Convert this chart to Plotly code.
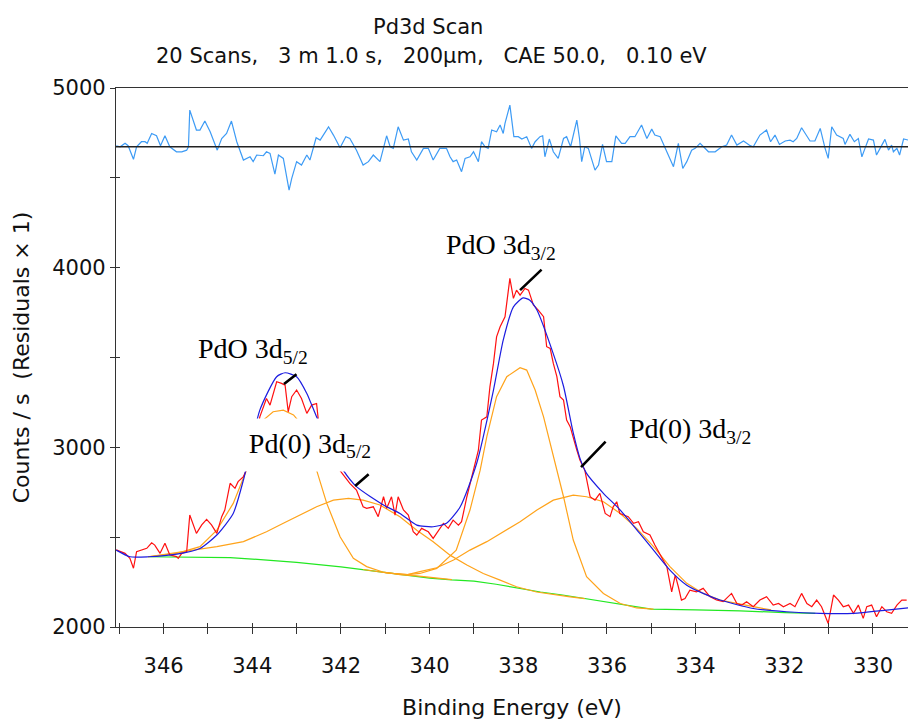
import plotly.graph_objects as go

# ---------------- data ----------------
raw_be = [347.07, 346.87, 346.76, 346.68, 346.61, 346.46, 346.38, 346.27, 346.20, 346.08,
          345.97, 345.86, 345.71, 345.67, 345.59, 345.48, 345.41, 345.26, 345.14, 345.03,
          344.92, 344.80, 344.69, 344.62, 344.50, 344.39, 344.32, 344.20, 344.13, 344.00,
          343.90, 343.83, 343.75, 343.68, 343.60, 343.53, 343.45, 343.34, 343.26, 343.19,
          343.11, 343.00, 342.89, 342.77, 342.66, 342.55, 342.51, 342.40, 342.20, 342.05,
          341.91, 341.80, 341.65, 341.50, 341.42, 341.27, 341.16, 341.04, 340.97, 340.86,
          340.78, 340.71, 340.59, 340.48, 340.37, 340.29, 340.18, 340.03, 339.92, 339.80,
          339.69, 339.58, 339.47, 339.35, 339.28, 339.16, 339.01, 338.90, 338.83, 338.71,
          338.64, 338.56, 338.49, 338.41, 338.30, 338.19, 338.11, 338.04, 337.96, 337.85,
          337.77, 337.66, 337.55, 337.43, 337.36, 337.28, 337.21, 337.13, 337.06, 336.98,
          336.91, 336.83, 336.68, 336.61, 336.50, 336.38, 336.27, 336.16, 336.04, 335.93,
          335.86, 335.78, 335.71, 335.63, 335.52, 335.40, 335.29, 335.18, 335.03, 334.92,
          334.80, 334.65, 334.54, 334.46, 334.39, 334.32, 334.24, 334.13, 333.98, 333.83,
          333.68, 333.53, 333.38, 333.19, 333.07, 332.96, 332.85, 332.70, 332.55, 332.40,
          332.25, 332.13, 332.02, 331.87, 331.76, 331.61, 331.49, 331.38, 331.27, 331.16,
          331.01, 330.89, 330.78, 330.67, 330.55, 330.44, 330.33, 330.22, 330.14, 330.03,
          329.92, 329.80, 329.69, 329.58, 329.46, 329.35, 329.24]
raw_counts = [2429, 2410, 2382, 2327, 2419, 2429, 2438, 2469, 2456, 2410,
              2466, 2401, 2392, 2382, 2410, 2419, 2623, 2521, 2568, 2599,
              2568, 2521, 2614, 2651, 2800, 2772, 2809, 2837, 2874, 2980,
              3080, 3170, 3226, 3272, 3235, 3291, 3365, 3356, 3346, 3198,
              3282, 3319, 3272, 3189, 3235, 3244, 3152, 3050, 2940, 2880,
              2836, 2799, 2762, 2669, 2660, 2669, 2614, 2725, 2660, 2725,
              2623, 2725, 2651, 2623, 2530, 2512, 2549, 2530, 2493, 2539,
              2577, 2549, 2595, 2567, 2586, 2725, 2873, 2985, 3152, 3170,
              3337, 3467, 3615, 3671, 3727, 3940, 3829, 3875, 3847, 3884,
              3875, 3792, 3764, 3727, 3560, 3550, 3467, 3393, 3282, 3263,
              3152, 3115, 2985, 2929, 2873, 2725, 2706, 2744, 2632, 2614,
              2669, 2697, 2632, 2623, 2614, 2577, 2586, 2530, 2512, 2456,
              2400, 2336, 2196, 2289, 2224, 2150, 2159, 2205, 2196, 2215,
              2169, 2150, 2141, 2187, 2131, 2122, 2141, 2113, 2150, 2169,
              2122, 2131, 2113, 2131, 2113, 2187, 2131, 2113, 2150, 2113,
              2020, 2178, 2150, 2113, 2122, 2076, 2122, 2048, 2113, 2122,
              2057, 2113, 2085, 2076, 2122, 2150, 2150]

env_be = [347.07, 346.76, 346.35, 345.70, 345.18, 344.80, 344.43, 344.20, 343.83, 343.45,
          343.26, 343.00, 342.77, 342.55, 342.30, 342.10, 341.95, 341.65, 341.04, 340.67,
          340.29, 339.92, 339.62, 339.31, 338.94, 338.56, 338.34, 338.11, 337.89, 337.74,
          337.58, 337.21, 336.98, 336.76, 336.61, 336.46, 336.08, 335.70, 335.26, 334.95,
          334.58, 334.20, 333.83, 333.45, 332.70, 331.95, 331.20, 330.44, 329.69, 329.20]
env_counts = [2428, 2391, 2391, 2406, 2437, 2512, 2632, 2818, 3207, 3393,
              3415, 3393, 3300, 3170, 3040, 2940, 2873, 2781, 2679, 2632,
              2567, 2558, 2577, 2669, 2910, 3319, 3597, 3782, 3832, 3819,
              3764, 3520, 3340, 3080, 2940, 2855, 2744, 2651, 2521, 2428,
              2317, 2233, 2187, 2150, 2103, 2085, 2076, 2076, 2094, 2107]

bg_be = [346.35, 345.5, 344.5, 344.0, 343.0, 342.0, 341.0, 340.5, 340.0, 339.5,
         339.0, 338.5, 338.0, 337.5, 337.0, 336.5, 336.0, 335.5, 335.0, 334.0,
         333.0, 332.0, 331.3]
bg_counts = [2391, 2390, 2386, 2378, 2360, 2335, 2302, 2285, 2272, 2262,
             2255, 2238, 2215, 2195, 2178, 2158, 2138, 2120, 2100, 2095,
             2090, 2080, 2076]

pdo52_be = [346.35, 345.70, 345.18, 344.80, 344.43, 344.13, 343.95, 343.75, 343.53, 343.30,
            343.07, 342.85, 342.70, 342.55, 342.32, 342.02, 341.72, 341.42, 341.04, 340.67,
            340.29, 339.90, 339.50]
pdo52_counts = [2391, 2410, 2447, 2539, 2688, 2873, 3020, 3152, 3198, 3207,
                3180, 3115, 3010, 2873, 2688, 2502, 2382, 2336, 2305, 2292,
                2285, 2274, 2264]

pd052_be = [346.35, 345.56, 344.80, 344.20, 343.68, 343.30, 342.92, 342.55, 342.17, 341.83,
            341.50, 341.12, 340.67, 340.29, 339.92, 339.54, 339.16, 338.79, 338.41, 338.04,
            337.59, 337.21, 336.83, 336.50]
pd052_counts = [2391, 2419, 2447, 2475, 2530, 2577, 2623, 2669, 2706, 2716,
                2706, 2679, 2614, 2539, 2475, 2400, 2345, 2298, 2261, 2224,
                2195, 2180, 2168, 2158]

pdo32_be = [341.50, 341.00, 340.50, 340.22, 339.84, 339.40, 339.09, 338.86, 338.71, 338.49,
            338.26, 337.96, 337.81, 337.62, 337.43, 337.21, 336.98, 336.76, 336.46, 336.08,
            335.70, 335.33, 334.95]
pdo32_counts = [2320, 2302, 2292, 2298, 2326, 2428, 2651, 2873, 3059, 3282,
                3393, 3443, 3430, 3319, 3170, 2948, 2725, 2484, 2280, 2187,
                2131, 2106, 2100]

pd032_be = [341.00, 340.50, 340.22, 339.84, 339.46, 339.09, 338.71, 338.34, 337.96, 337.58,
            337.21, 336.76, 336.46, 336.08, 335.70, 335.33, 334.95, 334.58, 334.20, 333.83,
            333.45, 332.70, 332.30]
pd032_counts = [2302, 2292, 2308, 2330, 2373, 2428, 2475, 2530, 2586, 2651,
                2706, 2734, 2725, 2697, 2632, 2549, 2447, 2336, 2243, 2187,
                2150, 2113, 2095]

resid_offset = 4673
resid_be = [347.07, 346.98, 346.87, 346.80, 346.68, 346.61, 346.50, 346.42, 346.37, 346.27,
            346.16, 346.07, 345.97, 345.86, 345.71, 345.59, 345.48, 345.44, 345.41, 345.26,
            345.18, 345.07, 344.95, 344.79, 344.69, 344.58, 344.47, 344.35, 344.20, 344.13,
            344.05, 343.98, 343.90, 343.75, 343.68, 343.60, 343.49, 343.41, 343.30, 343.17,
            343.11, 343.00, 342.89, 342.77, 342.70, 342.56, 342.47, 342.28, 342.17, 342.02,
            341.89, 341.80, 341.65, 341.50, 341.38, 341.27, 341.12, 340.97, 340.89, 340.82,
            340.71, 340.59, 340.48, 340.41, 340.29, 340.14, 340.03, 339.92, 339.77, 339.62,
            339.54, 339.47, 339.39, 339.28, 339.20, 339.09, 339.01, 338.90, 338.83, 338.75,
            338.68, 338.60, 338.49, 338.41, 338.34, 338.30, 338.19, 338.10, 338.00, 337.92,
            337.81, 337.70, 337.62, 337.51, 337.45, 337.40, 337.30, 337.21, 337.10, 336.98,
            336.91, 336.82, 336.68, 336.62, 336.57, 336.50, 336.42, 336.27, 336.19, 336.10,
            336.01, 335.89, 335.80, 335.67, 335.59, 335.48, 335.37, 335.22, 335.10, 334.99,
            334.92, 334.80, 334.65, 334.50, 334.39, 334.29, 334.20, 334.09, 334.01, 333.90,
            333.71, 333.56, 333.41, 333.30, 333.19, 333.07, 332.92, 332.77, 332.70, 332.55,
            332.40, 332.31, 332.21, 332.11, 331.98, 331.87, 331.80, 331.72, 331.61, 331.42,
            331.31, 331.19, 331.08, 331.01, 330.93, 330.82, 330.67, 330.63, 330.52, 330.42,
            330.33, 330.25, 330.18, 330.10, 329.99, 329.92, 329.84, 329.73, 329.65, 329.58,
            329.54, 329.46, 329.40, 329.31, 329.20]
resid_vals = [5, 0, 19, 6, -70, 0, 28, 28, 19, 74,
              61, 6, 61, 0, -28, -28, -19, 0, 204, 93,
              93, 143, 83, -19, 46, 74, 143, 28, -74, -65,
              -56, -83, -46, -50, -28, -37, -152, -46, -65, -241,
              -176, -83, -102, -46, -74, 50, 37, 111, 65, -6,
              56, 46, -19, -102, -83, -46, -83, 61, 0, -9,
              111, 37, 43, -28, -74, -9, -9, -74, -9, -9,
              -56, -83, -74, -139, -65, -56, -28, -83, 28, 0,
              -9, 93, 83, 121, 74, 130, 232, 56, 56, 43,
              56, -9, 28, 56, 61, -56, 43, -28, -65, 46,
              56, 0, 148, 46, -83, 0, -9, -130, -102, 13,
              -83, -83, 61, 19, 19, 56, 56, 121, 46, 98,
              65, 56, -28, -111, 19, -121, -83, -19, -9, 19,
              -28, -28, 0, 9, 65, 9, 32, 6, 0, 65,
              93, 28, 65, 13, 32, 37, 28, 46, 106, 32,
              32, 102, -9, -65, 111, 65, 46, 13, 69, 28,
              46, -56, -9, 43, 37, -46, -9, 41, -19, 9,
              -28, -9, -46, 43, 37]

x_tick_vals = [346, 344, 342, 340, 338, 336, 334, 332, 330]
y_tick_vals = [2000, 3000, 4000, 5000]

peak_labels = ["PdO 3d<sub>5/2</sub>", "Pd(0) 3d<sub>5/2</sub>",
               "PdO 3d<sub>3/2</sub>", "Pd(0) 3d<sub>3/2</sub>"]
label_be = [343.98, 342.70, 338.39, 334.13]
label_counts = [3541, 3013, 4120, 3091]
arrow_be = [343.285, 341.68, 337.96, 336.585]
arrow_counts = [3352, 2785, 3875, 2890]

# ---------------- figure ----------------
fig = go.Figure()
LW = 1.2
fig.add_trace(go.Scatter(x=bg_be, y=bg_counts, mode="lines",
                         line=dict(color="#22e822", width=LW)))
for be, cts in [(pdo52_be, pdo52_counts), (pd052_be, pd052_counts),
                (pdo32_be, pdo32_counts), (pd032_be, pd032_counts)]:
    fig.add_trace(go.Scatter(x=be, y=cts, mode="lines",
                             line=dict(color="#ffa31a", width=LW)))
fig.add_trace(go.Scatter(x=raw_be, y=raw_counts, mode="lines",
                         line=dict(color="#ff1010", width=LW)))
fig.add_trace(go.Scatter(x=env_be, y=env_counts, mode="lines",
                         line=dict(color="#1c1ce0", width=LW, shape="spline", smoothing=0.6)))
fig.add_trace(go.Scatter(x=resid_be, y=[resid_offset + r for r in resid_vals], mode="lines",
                         line=dict(color="#3d9bf5", width=LW)))

fig.add_hline(y=resid_offset, line=dict(color="#222222", width=1.3))

XR = [347.074, 329.21]
YR = [2000, 5000]
tickfont = dict(family="DejaVu Sans", size=21, color="#111111")
titlefont_ax = dict(family="DejaVu Sans", size=22, color="#111111")
fig.update_layout(
    width=908, height=721,
    margin=dict(l=116, r=0, t=88, b=94),
    paper_bgcolor="white", plot_bgcolor="white",
    showlegend=False,
    xaxis=dict(range=XR, showgrid=False, zeroline=False,
               showline=True, linecolor="#333333", linewidth=1.3, mirror=True,
               ticks="outside", ticklen=6, tickwidth=1.2, tickcolor="#333333",
               tickvals=x_tick_vals, ticktext=[str(v) for v in x_tick_vals],
               minor=dict(ticks="outside", ticklen=6, tickwidth=1.2, tickcolor="#333333", dtick=1, tick0=0),
               tickfont=tickfont, ticklabelstandoff=14,
               title=dict(text="Binding Energy (eV)", font=titlefont_ax, standoff=22)),
    yaxis=dict(range=YR, showgrid=False, zeroline=False,
               showline=True, linecolor="#333333", linewidth=1.3,
               ticks="outside", ticklen=5, tickwidth=1.2, tickcolor="#333333",
               tickvals=y_tick_vals, ticktext=[str(v) for v in y_tick_vals],
               minor=dict(ticks="outside", ticklen=5, tickwidth=1.2, tickcolor="#333333", dtick=500, tick0=0),
               tickfont=tickfont,
               title=dict(text="Counts / s&nbsp;&nbsp;(Residuals × 1)", font=titlefont_ax, standoff=16)),
    xaxis2=dict(range=XR, overlaying="x", side="bottom", showgrid=False, zeroline=False,
                showticklabels=False, ticks="inside", ticklen=4, tickwidth=1.2, tickcolor="#333333",
                dtick=1, tick0=0, anchor="y"),
    yaxis2=dict(range=YR, overlaying="y", side="left", showgrid=False, zeroline=False,
                showticklabels=False, ticks="inside", ticklen=4, tickwidth=1.2, tickcolor="#333333",
                dtick=500, tick0=0, anchor="x"),
)
# invisible trace to activate the overlay axes (inside tick halves)
fig.add_trace(go.Scatter(x=[XR[0]], y=[YR[0]], xaxis="x2", yaxis="y2", mode="markers",
                         marker=dict(opacity=0), hoverinfo="skip"))

titlefont = dict(family="DejaVu Sans", size=21, color="#111111")
fig.add_annotation(text="Pd3d Scan", xref="paper", yref="paper", x=0.394, y=1.113,
                   showarrow=False, font=titlefont, xanchor="center", yanchor="middle")
fig.add_annotation(text="20 Scans,&nbsp;&nbsp; 3 m 1.0 s,&nbsp;&nbsp; 200μm,&nbsp;&nbsp; CAE 50.0,&nbsp;&nbsp; 0.10 eV",
                   xref="paper", yref="paper", x=0.398, y=1.060,
                   showarrow=False, font=titlefont, xanchor="center", yanchor="middle")

serif = dict(family="Liberation Serif, Times New Roman", size=28, color="black")
for i, (txt, lx, ly) in enumerate(zip(peak_labels, label_be, label_counts)):
    kw = {}
    if i == 1:
        kw = dict(bgcolor="white", width=136, height=50)
    fig.add_annotation(text=txt, x=lx, y=ly, showarrow=False, font=serif,
                       xanchor="center", yanchor="middle", **kw)

arrow_off = [(14, -11), (15, -13), (23, -22), (26, -27)]
for (bx, by), (ax, ay) in zip(zip(arrow_be, arrow_counts), arrow_off):
    fig.add_annotation(x=bx, y=by, ax=ax, ay=ay, text="", showarrow=True,
                       arrowhead=0, arrowwidth=2.6, arrowcolor="black")

fig.write_html("out.html")
